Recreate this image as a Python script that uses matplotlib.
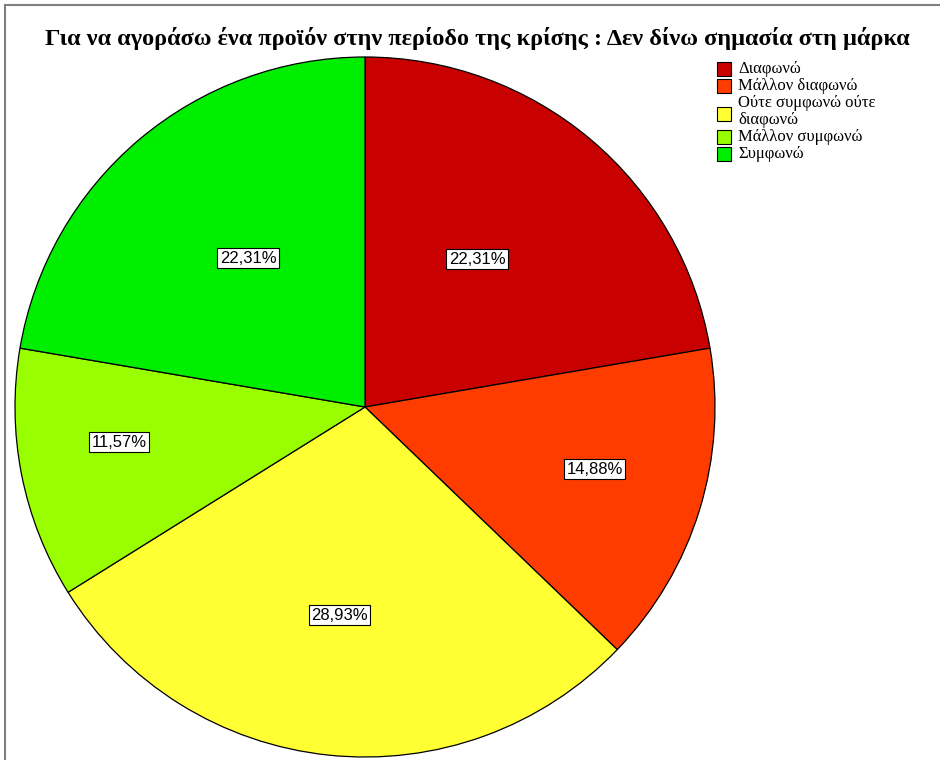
import textwrap
import matplotlib
matplotlib.use("Agg")
import matplotlib.pyplot as plt
from matplotlib.patches import Rectangle
from matplotlib.lines import Line2D
import numpy as np

title = "Για να αγοράσω ένα προϊόν στην περίοδο της κρίσης : Δεν δίνω σημασία στη μάρκα"
categories = ["Διαφωνώ", "Μάλλον διαφωνώ", "Ούτε συμφωνώ ούτε διαφωνώ",
              "Μάλλον συμφωνώ", "Συμφωνώ"]
percents = [22.31, 14.88, 28.93, 11.57, 22.31]
colors = ["#c80000", "#ff3c00", "#ffff33", "#99ff00", "#00ee00"]
# label placement (radius, angle shift in degrees)
label_r = [0.53, 0.68, 0.60, 0.71, 0.54]
label_shift = [3, 2, -1, -3, -2]

W, H = 940, 760
fig = plt.figure(figsize=(W / 100, H / 100), dpi=100)


def px(x, y):
    return x / W, 1 - y / H


# pie: centre (365, 407), radius 350 px
ax = fig.add_axes([15 / W, 3 / H, 700 / W, 700 / H])
wedges, _ = ax.pie(percents, colors=colors, startangle=90, counterclock=False,
                   radius=1, wedgeprops=dict(edgecolor="black", linewidth=0.9))
ax.set_xlim(-1, 1)
ax.set_ylim(-1, 1)
ax.set_aspect("equal")
ax.axis("off")

# percentage labels
for w, p, r, s in zip(wedges, percents, label_r, label_shift):
    ang = np.deg2rad((w.theta1 + w.theta2) / 2 + s)
    ax.text(r * np.cos(ang), r * np.sin(ang), f"{p:.2f}%".replace(".", ","),
            ha="center", va="center", fontsize=12, family="Liberation Sans",
            bbox=dict(boxstyle="square,pad=0.15", fc="white", ec="black", lw=0.8))

fig.text(*px(477, 38), title, ha="center", va="center", fontsize=17.5,
         fontweight="bold", family="Liberation Serif")

# legend
y = 69
step = 17
for cat, col in zip(categories, colors):
    lines = textwrap.wrap(cat, 18)
    n = len(lines)
    yc = y + (n - 1) * step / 2 + (2 if n > 1 else 0)
    x0, y0 = px(717, yc + 7)
    fig.add_artist(Rectangle((x0, y0), 14 / W, 14 / H, transform=fig.transFigure,
                             fc=col, ec="black", lw=0.8))
    for i, line in enumerate(lines):
        fig.text(*px(738, y + i * step), line, ha="left", va="center",
                 fontsize=12, family="Liberation Serif")
    y += step * n

# frame
fig.add_artist(Line2D([5 / W, 5 / W], [0, 1 - 5 / H], transform=fig.transFigure,
                      color="#808080", lw=1.5))
fig.add_artist(Line2D([5 / W, 1], [1 - 5 / H, 1 - 5 / H], transform=fig.transFigure,
                      color="#808080", lw=1.5))

fig.savefig("out.png", dpi=100)
